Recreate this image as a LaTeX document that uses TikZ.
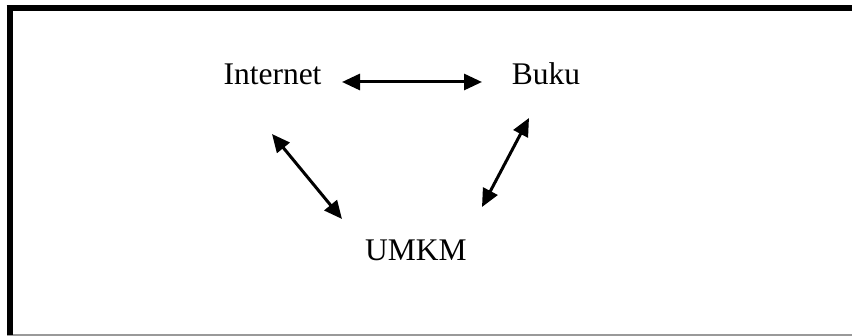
\documentclass[tikz,border=0pt]{standalone}
\usepackage{fontspec}
\setmainfont{Liberation Serif}
\usetikzlibrary{arrows.meta,calc}
\begin{document}
\begin{tikzpicture}[x=1pt,y=1pt,
  lbl/.style={anchor=base,inner sep=0pt,font=\fontsize{31.5}{36}\selectfont},
  link/.style={line width=3pt,{Triangle[length=18pt,width=16pt]}-{Triangle[length=18pt,width=16pt]}}]
\useasboundingbox (0,0) rectangle (852,336);
% frame
\draw[line width=1.5pt,color=black!40] (7,1) -- (852,1);
\draw[line width=6pt] (9.5,1) -- (9.5,330.5);
\draw[line width=6pt] (6.5,327.7) -- (852,327.7);
% nodes
\node[lbl] (internet) at (272.5,251) {Internet};
\node[lbl] (buku) at (546,251) {Buku};
\node[lbl] (umkm) at (416,75) {UMKM};
% connectors
\draw[link] ($(internet.base)+(69.5,3)$) -- ($(buku.base)+(-64,3)$);
\draw[link] ($(internet.base)+(-0.5,-49)$) -- ($(umkm.base)+(-74,42)$);
\draw[link] ($(buku.base)+(-17,-33)$) -- ($(umkm.base)+(66,54)$);
\end{tikzpicture}
\end{document}
